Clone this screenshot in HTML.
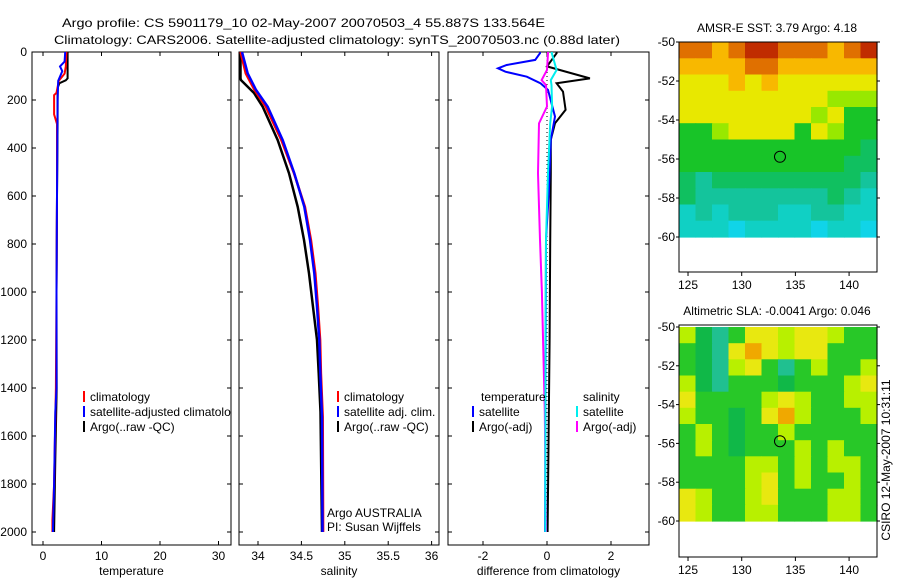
<!DOCTYPE html>
<html><head><meta charset="utf-8"><style>
body{margin:0;background:#fff}
svg text{font-family:"Liberation Sans",sans-serif;font-size:12px;fill:#000}
</style></head><body>
<svg id="c" width="900" height="580" xmlns="http://www.w3.org/2000/svg">
<defs>
<clipPath id="cp1"><rect x="32" y="52" width="199" height="493"/></clipPath>
<clipPath id="cp2"><rect x="239" y="52" width="200" height="493"/></clipPath>
<clipPath id="cp3"><rect x="448" y="52" width="201" height="493"/></clipPath>
</defs>
<text x="62" y="27" font-size="14" textLength="483" lengthAdjust="spacingAndGlyphs">Argo profile: CS 5901179_10 02-May-2007 20070503_4 55.887S 133.564E</text>
<text x="54" y="44" font-size="14" textLength="566" lengthAdjust="spacingAndGlyphs">Climatology: CARS2006. Satellite-adjusted climatology: synTS_20070503.nc (0.88d later)</text>
</svg>
<script>
// ---- profile data ----
const tDepthArgo=[0,110,118,130,150,300,600,1000,1400,1700,2000];
const tArgo=[4.2,4.2,3.9,2.8,2.5,2.5,2.4,2.3,2.35,2.1,1.9];
const tDepthClim=[0,60,90,120,170,180,260,300,600,1000,1400,1800,1950,2000];
const tClim=[4.0,3.9,3.7,2.7,2.3,1.9,1.9,2.4,2.4,2.3,2.2,1.9,1.6,1.6];
const tDepthSat=[0,40,60,80,120,200,600,1000,1400,1500,1800,2000];
const tSat=[3.8,3.7,2.9,3.3,2.6,2.5,2.4,2.3,2.3,2.1,1.9,1.7];
const sDepthArgo=[0,110,117,171,228,367,505,645,783,922,1062,1200,1338,1500,2000];
const sArgo=[33.798,33.798,33.804,33.954,34.054,34.227,34.357,34.457,34.530,34.588,34.634,34.680,34.699,34.720,34.737];
const sDepthSat=[0,89,158,228,367,505,645,783,922,1062,1200,1338,1520,2000];
const sSat=[33.816,33.881,33.977,34.112,34.285,34.418,34.533,34.599,34.649,34.680,34.706,34.718,34.737,34.743];
const sClim=[33.80,33.86,33.96,34.09,34.27,34.415,34.54,34.61,34.66,34.69,34.715,34.725,34.745,34.75];
const dDepthTSat=[0,5,33,54,68,82,103,131,158,269,366,575,783,1200,1600,2000];
const dTSat=[-0.22,-0.22,-0.37,-1.26,-1.53,-1.3,-0.63,-0.2,0.03,0.25,0.12,0.06,-0.03,-0.04,-0.05,-0.06];
const dDepthTArgo=[0,5,60,75,110,130,165,241,297,366,505,800,1200,1600,2000];
const dTArgo=[0.3,0.3,0.0,0.4,1.34,0.3,0.5,0.58,0.25,0.12,0.12,0.1,0.08,0.05,0.02];
const dDepthS=[0,5,75,117,138,227,297,505,783,1000,1500,2000];
const dSArgo=[0.03,0.03,0.0,-0.17,-0.03,0.0,-0.25,-0.28,-0.22,-0.16,-0.07,-0.03];
const dSSat=[0.15,0.15,0.3,0.12,0.14,0.16,0.1,0.03,-0.03,-0.04,-0.05,-0.05];
const depthTicks=[0,200,400,600,800,1000,1200,1400,1600,1800,2000];
const tTicks=[0,10,20,30];
const sTicks=[34,34.5,35,35.5,36];
const dTicks=[-2,0,2];
// ---- map data (levels 1..10) ----
const lonTicks=[125,130,135,140];
const latTicks=[-50,-52,-54,-56,-58,-60];
const sstGrid=[
[9,9,8,9,10,10,9,9,9,8,9,10],
[8,8,8,8,9,9,8,8,8,8,8,8],
[7,7,7,8,7,8,7,7,7,7,7,7],
[7,7,7,7,7,7,7,7,7,6,6,6],
[7,7,7,7,7,7,7,7,6,7,5,5],
[5,5,6,7,7,7,7,5,7,6,5,5],
[5,5,5,5,5,5,5,5,5,5,5,4],
[5,5,5,5,5,5,5,5,5,5,4,4],
[4,3,4,4,4,4,4,4,4,4,4,3],
[4,3,3,3,3,3,3,3,3,4,3,2],
[2,3,2,3,3,3,2,2,3,3,2,2],
[2,2,2,1,2,2,2,2,1,2,2,1]];
const slaGrid=[
[6,4,3,5,7,7,6,7,7,6,5,5],
[5,4,3,7,8,7,6,7,7,5,5,5],
[5,4,3,6,7,5,3,5,6,5,5,6],
[6,4,3,5,5,5,4,5,5,5,6,7],
[7,5,5,5,5,6,7,6,5,5,6,6],
[6,5,5,4,5,7,8,6,5,5,5,6],
[5,6,5,4,5,5,6,5,5,5,5,5],
[5,6,5,4,5,5,5,6,5,6,5,5],
[5,5,5,5,6,6,5,6,5,6,6,5],
[5,5,5,5,6,7,5,6,5,5,6,5],
[7,6,5,5,6,7,5,5,5,6,6,5],
[7,6,5,5,6,6,5,5,5,6,6,5]];
const floatLon=133.564, floatLat=-55.887;

const svg=document.getElementById('c');
const NS='http://www.w3.org/2000/svg';
function mk(tag,attrs,parent){const e=document.createElementNS(NS,tag);for(const k in attrs)e.setAttribute(k,attrs[k]);(parent||svg).appendChild(e);return e;}
function txt(x,y,s,anchor,parent,size){const e=mk('text',{x:x,y:y,'text-anchor':anchor||'start'},parent);if(size)e.setAttribute('font-size',size);e.textContent=s;return e;}
const Y=d=>52+d*0.24;
const xT=v=>43+v*5.85, xS=v=>258+(v-34)*86.8, xD=v=>547+v*32;

function panel(name,x0,x1,ticks,xf,label,labelFmt){
  const g=mk('g',{});
  
  
  const r=mk('rect',{x:x0,y:52,width:x1-x0,height:493,fill:'none',stroke:'#000','stroke-width':1},g);
  
  
  ticks.forEach(t=>{const x=xf(t);
    mk('line',{x1:x,x2:x,y1:545,y2:541,stroke:'#000'},g);
    mk('line',{x1:x,x2:x,y1:52,y2:56,stroke:'#000'},g);
    const l=txt(x,560,labelFmt(t),'middle',g);
    
    });
  depthTicks.forEach(d=>{const y=Y(d);
    mk('line',{x1:x0,x2:x0+4,y1:y,y2:y,stroke:'#000'},g);
    mk('line',{x1:x1,x2:x1-4,y1:y,y2:y,stroke:'#000'},g);});
  const t=txt((x0+x1)/2,575,label,'middle',g);
  
  
  return g;
}
panel('temperature',32,231,tTicks,xT,'temperature',String);
panel('salinity',239,439,sTicks,xS,'salinity',String);
panel('difference',448,649,dTicks,xD,'difference from climatology',String);
depthTicks.forEach(d=>{const l=txt(27,Y(d)+4,String(d),'end');
  
  });

function line(depths,vals,xf,color,w,clip,name,dash){
  const pts=depths.map((d,i)=>xf(vals[i]).toFixed(1)+','+Y(d).toFixed(1)).join(' ');
  const p=mk('polyline',{points:pts,fill:'none',stroke:color,'stroke-width':w,'clip-path':'url(#'+clip+')','stroke-linejoin':'miter'});
  if(dash)p.setAttribute('stroke-dasharray',dash);
  
  
}
line(tDepthArgo,tArgo,xT,'#000',2,'cp1','temp-argo-line');
line(tDepthClim,tClim,xT,'#f00',2,'cp1','temp-climatology-line');
line(tDepthSat,tSat,xT,'#00f',2,'cp1','temp-satellite-line');
line(sDepthArgo,sArgo,xS,'#000',2.5,'cp2','sal-argo-line');
line(sDepthSat,sClim,xS,'#f00',2.5,'cp2','sal-climatology-line');
line(sDepthSat,sSat,xS,'#00f',2.5,'cp2','sal-satellite-line');
line([0,2000],[0,0],xD,'#000',1,'cp3','zero-reference-line','1,3');
line(dDepthTArgo,dTArgo,xD,'#000',2,'cp3','diff-temp-argo-line');
line(dDepthTSat,dTSat,xD,'#00f',2,'cp3','diff-temp-satellite-line');
line(dDepthS,dSArgo,xD,'#f0f',2,'cp3','diff-sal-argo-line');
line(dDepthS,dSSat,xD,'#0ee',2,'cp3','diff-sal-satellite-line');

function leg(x,y,color,label,clip){
  const g=mk('g',{});
  
  
  mk('rect',{x:x,y:y-10,width:2,height:11,fill:color},g);
  const t=txt(x+7,y,label,'start',g);
  if(clip)t.setAttribute('clip-path','url(#'+clip+')');
}
leg(83,401,'#f00','climatology','cp1');
leg(83,416,'#00f','satellite-adjusted climatology','cp1');
leg(83,431,'#000','Argo(..raw -QC)','cp1');
leg(337,401,'#f00','climatology');
leg(337,416,'#00f','satellite adj. clim.');
leg(337,431,'#000','Argo(..raw -QC)');
let a=txt(327,517,'Argo AUSTRALIA');
a=txt(327,531,'PI: Susan Wijffels');
a=txt(481,401,'temperature');
a=txt(583,401,'salinity');
leg(472,416,'#00f','satellite');
leg(472,431,'#000','Argo(-adj)');
leg(576,416,'#0ee','satellite');
leg(576,431,'#f0f','Argo(-adj)');

// ---- maps ----
const lonMin=124.16, lonMax=142.6;
const colors={1:'#10d4e8',2:'#10d0c4',3:'#14c49c',4:'#10c060',5:'#18c428',6:'#98e800',7:'#e8e800',8:'#f8b800',9:'#e07000',10:'#c02c00'};
const slaColors={3:'#20c090',4:'#10b848',5:'#28c828',6:'#b8f000',7:'#e8e810',8:'#f0a800'};
function map(name,top,bottom,y50,y60,grid,cmap,title){
  const g=mk('g',{});
  
  
  const xL=679,xR=877;
  const lx=v=>xL+(v-lonMin)/(lonMax-lonMin)*(xR-xL);
  const ly=v=>y50+(-50-v)/10*(y60-y50);
  const nr=grid.length,nc=grid[0].length;
  grid.forEach((row,i)=>row.forEach((v,j)=>{
    const x=lonMin+j*(lonMax-lonMin)/nc, la=-50-i*10/nr;
    const c=mk('rect',{x:lx(x).toFixed(1),y:ly(la).toFixed(1),width:((xR-xL)/nc+0.6).toFixed(1),height:((y60-y50)/nr+0.6).toFixed(1),fill:cmap[v]},g);
    
    
  }));
  mk('rect',{x:xL,y:top,width:xR-xL,height:bottom-top,fill:'none',stroke:'#000'},g);
  lonTicks.forEach(v=>{const x=lx(v);mk('line',{x1:x,x2:x,y1:bottom,y2:bottom+4,stroke:'#000'},g);
    const l=txt(x,bottom+17,String(v),'middle',g);});
  latTicks.forEach(v=>{const y=ly(v);mk('line',{x1:xL,x2:xL-3,y1:y,y2:y,stroke:'#000'},g);mk('line',{x1:xR,x2:xR+3,y1:y,y2:y,stroke:'#000'},g);
    const l=txt(675,y+4,String(v),'end',g);});
  const c=mk('circle',{cx:lx(floatLon),cy:ly(floatLat),r:5.5,fill:'none',stroke:'#000','stroke-width':1},g);
  
  
  const t=txt(777,top-10,title,'middle',g);
  
  
}
map('sst',42,272,42,237,sstGrid,colors,'AMSR-E SST: 3.79 Argo: 4.18');
map('sla',325,557,327,521,slaGrid,slaColors,'Altimetric SLA: -0.0041  Argo: 0.046');
a=txt(0,0,'CSIRO 12-May-2007 10:31:11','middle');
a.setAttribute('transform','translate(890,460) rotate(-90)');


</script>
</body></html>
